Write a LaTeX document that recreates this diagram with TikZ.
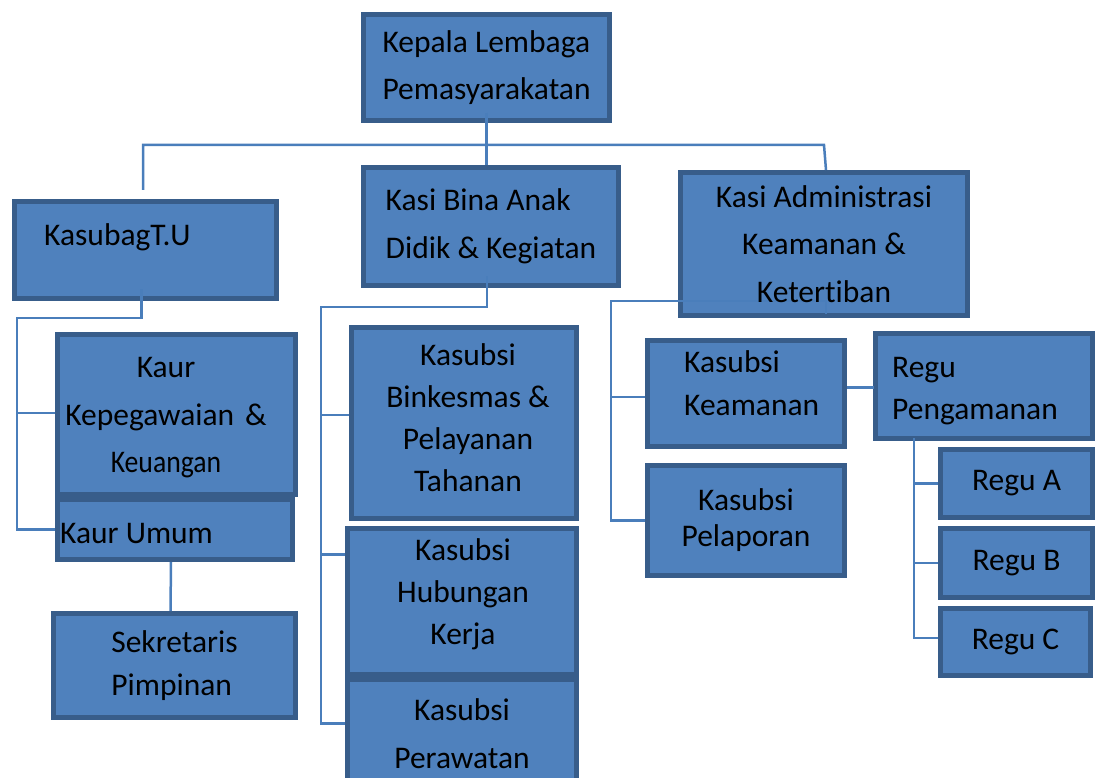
\documentclass[tikz,border=0pt]{standalone}
\usepackage{fontspec}
\setmainfont{Carlito}[Ligatures=NoCommon]
\usepackage{tikz}
\definecolor{boxfill}{HTML}{4F81BD}
\definecolor{boxline}{HTML}{385D8A}
\definecolor{linkcol}{HTML}{4A7EBB}
\tikzstyle{unit} = [rectangle, draw=boxline, fill=boxfill, line width=5pt, inner sep=0pt, align=center, font=\fontsize{31.5}{47.5}\selectfont]
\tikzstyle{unittext} = [inner sep=0pt, align=center, font=\fontsize{31.5}{47.5}\selectfont]
\tikzstyle{link} = [draw=linkcol, line width=2.5pt]
\newcommand{\tightrows}{\fontsize{31.5}{42}\selectfont}

\begin{document}
\begin{tikzpicture}[x=1pt, y=-1pt]
        \useasboundingbox (0,0) rectangle (1095,778);
        \clip (0,0) rectangle (1095,778);

        % top
        \node (kepala) [unit, align=left, minimum width=246, minimum height=106] at (486.5,67.5) {Kepala Lembaga\\Pemasyarakatan};

        % second row
        \node (kasubag) [unit, minimum width=262, minimum height=97] at (145.5,250) {};
        \node (kasibina) [unit, align=left, minimum width=255, minimum height=118] at (491,226.5) {Kasi Bina Anak\\Didik \& Kegiatan};
        \node (kasiadmin) [unit, minimum width=287, minimum height=143] at (824,244) {};

        % under KasubagT.U
        \node (kaurkep) [unit, minimum width=238, minimum height=160] at (176.5,414.5) {};
        \node (kaurumum) [unit, minimum width=235, minimum height=60] at (175,529.5) {};
        \node (sekretaris) [unit, align=left, minimum width=242, minimum height=104, font=\fontsize{31.5}{43}\selectfont] at (174.5,665.5) {Sekretaris\\Pimpinan};

        % under Kasi Bina
        \node (binkesmas) [unit, minimum width=225, minimum height=191, font=\tightrows] at (464,423) {};
        \node (hubungan) [unit, minimum width=229, minimum height=146, font=\tightrows] at (462,601.5) {};
        \node (perawatan) [unit, minimum width=229, minimum height=108, font=\fontsize{31.5}{48}\selectfont] at (462,733.5) {Kasubsi\\Perawatan};

        % under Kasi Administrasi
        \node (keamanan) [unit, minimum width=197, minimum height=106] at (746,393.5) {};
        \node (pelaporan) [unit, minimum width=197, minimum height=110, font=\fontsize{31.5}{36}\selectfont] at (746,520.5) {Kasubsi\\Pelaporan};
        \node (pengamanan) [unit, minimum width=217, minimum height=105] at (984,386) {};
        \node (regua) [unit, minimum width=152, minimum height=68] at (1016.5,483.5) {Regu A};
        \node (regub) [unit, minimum width=152, minimum height=69] at (1016.5,563) {Regu B};
        \node (reguc) [unit, minimum width=150, minimum height=67] at (1015.5,642) {Regu C};

        \coordinate (bus) at (0,145);
        \coordinate (tutrunk) at (17,318);
        \coordinate (binatrunk) at (321,307);
        \coordinate (admintrunk) at (611,301);
        \coordinate (regutrunk) at (914,438);

        \draw[link] ([yshift=10]kepala.south) -- (kepala.south |- kasibina.north);
        \draw[link] ([xshift=-2.5,yshift=9]kasubag.north) |- (bus -| kasiadmin.north) -- ([xshift=2]kasiadmin.north);

        \draw[link] ([xshift=-4,yshift=12]kasubag.south) |- (tutrunk) |- (kaurumum.west);
        \draw[link] ([yshift=1.5]kaurkep.west) -| (tutrunk);
        \draw[link] ([xshift=-4]kaurumum.south) -- ([xshift=-4]sekretaris.north);

        \draw[link] ([xshift=-4,yshift=12]kasibina.south) |- (binatrunk) |- ([yshift=10]perawatan.west);
        \draw[link] ([yshift=8]binkesmas.west) -| (binatrunk);
        \draw[link] ([yshift=47]hubungan.west) -| (binatrunk);

        \draw[link] ([xshift=2,yshift=4]kasiadmin.south) |- (admintrunk) |- (pelaporan.west);
        \draw[link] ([yshift=-3.5]keamanan.west) -| (admintrunk);
        \draw[link] ([yshift=6]keamanan.east) -| (pengamanan.west);

        \draw[link] (regutrunk) |- ([yshift=4]reguc.west);
        \draw[link] (regua.west) -| (regutrunk);
        \draw[link] (regub.west) -| (regutrunk);

        % texts placed off centre
        \node (kasubagtext) [unittext, anchor=west] at (44,237) {KasubagT.U};
        \node (kasiadmintext) [unittext] at (824,244) {Kasi Administrasi\\Keamanan \&\\Ketertiban};
        \node (kaurkeptext) [unittext] at (166,418) {Kaur\\Kepegawaian\hspace{11pt}\&\\\scalebox{0.88}[1]{Keuangan}};
        \node (kaurumumtext) [unittext, anchor=west] at (60,534) {Kaur Umum};
        \node (binkesmastext) [unittext, font=\tightrows] at (468,418) {Kasubsi\\Binkesmas \&\\Pelayanan\\Tahanan};
        \node (hubungantext) [unittext, font=\tightrows] at (463,594) {Kasubsi\\Hubungan\\Kerja};
        \node (keamanantext) [unittext, align=left, anchor=north west, font=\fontsize{31.5}{43}\selectfont] at (684,350) {Kasubsi\\Keamanan};
        \node (pengamanantext) [unittext, align=left, anchor=north west, font=\tightrows] at (892,357) {Regu\\Pengamanan};

    \end{tikzpicture}
\end{document}
